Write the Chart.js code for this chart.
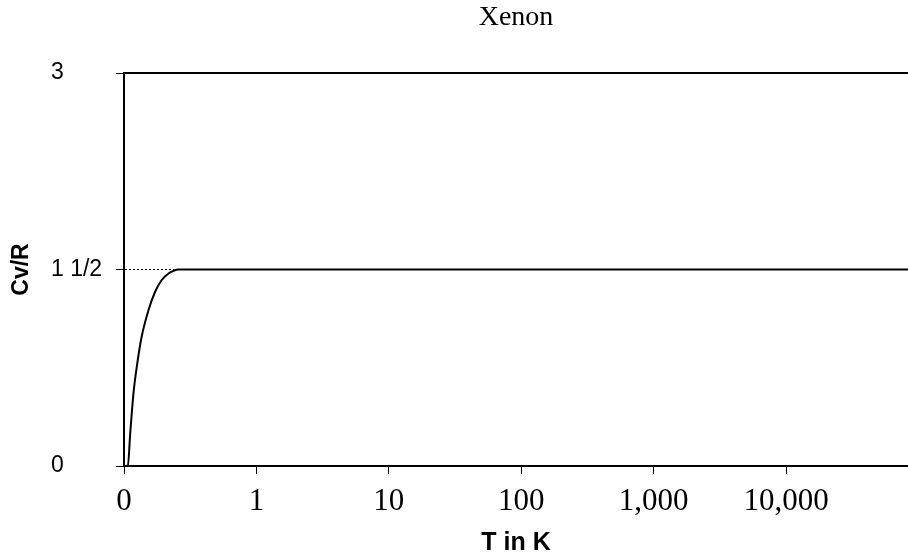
<!DOCTYPE html>
<html>
<head>
<meta charset="utf-8">
<script src="https://cdn.jsdelivr.net/npm/chart.js@4.4.0/dist/chart.umd.min.js"></script>
<style>
  body { margin: 0; background: #fff; }
</style>
</head>
<body>
<canvas id="myChart" width="908" height="558"></canvas>
<script>
// curve (x is position on the axis, 1 unit per decade label)
var tempPos = [0.02, 0.029, 0.047, 0.072, 0.097, 0.134, 0.185, 0.235, 0.285, 0.336, 0.374, 0.411, 5.92];
var cvOverR = [0.0, 0.0, 0.25, 0.56, 0.76, 0.99, 1.19, 1.33, 1.42, 1.47, 1.49, 1.50, 1.50];

var xTickPos = [0, 1, 2, 3, 4, 5];
var xTickLabels = ["0", "1", "10", "100", "1,000", "10,000"];
var yTickPos = [0, 1.5, 3];
var yTickLabels = ["0", "1 1/2", "3"];

var points = [];
tempPos.forEach(function (t, i) { points.push({ x: t, y: cvOverR[i] }); });

Chart.defaults.color = "#000";

var ctx = document.getElementById("myChart").getContext("2d");
var myChart = new Chart(ctx, {
  type: "line",
  data: {
    datasets: [{
      data: points,
      borderColor: "#000",
      borderWidth: 2,
      pointRadius: 0,
      cubicInterpolationMode: "monotone",
      fill: false
    }]
  },
  options: {
    responsive: false,
    animation: false,
    layout: { padding: 0 },
    plugins: { legend: { display: false }, tooltip: { enabled: false } },
    scales: {
      x: {
        type: "linear",
        position: "bottom",
        min: 0,
        max: 5.92,
        afterBuildTicks: function (s) { s.ticks = xTickPos.map(function (v) { return { value: v }; }); },
        afterFit: function (s) { s.height = 92; },
        ticks: {
          autoSkip: false,
          maxRotation: 0,
          padding: 9,
          font: { family: "'Liberation Serif', 'Times New Roman', serif", size: 31 },
          callback: function (v) { return xTickLabels[xTickPos.indexOf(v)]; }
        },
        grid: { drawOnChartArea: false, tickLength: 8, tickColor: "#000", tickWidth: 1 },
        border: { color: "#000", width: 2 },
        title: {
          display: true,
          text: "T in K",
          padding: { top: 0, bottom: 0 },
          font: { family: "'Liberation Sans', Arial, sans-serif", size: 25, weight: "bold" }
        }
      },
      xTop: {
        type: "linear",
        position: "top",
        min: 0,
        max: 1,
        afterFit: function (s) { s.height = 73; },
        ticks: { display: false },
        grid: { display: false },
        border: { color: "#000", width: 2 },
        title: {
          display: true,
          text: "Xenon",
          padding: { top: 1, bottom: 0 },
          font: { family: "'Liberation Serif', 'Times New Roman', serif", size: 28 }
        }
      },
      y: {
        type: "linear",
        position: "left",
        weight: 0,
        min: 0,
        max: 3,
        afterBuildTicks: function (s) { s.ticks = yTickPos.map(function (v) { return { value: v }; }); },
        afterFit: function (s) { s.width = 73; },
        ticks: {
          crossAlign: "far",
          font: { family: "'Liberation Sans', Arial, sans-serif", size: 23 },
          callback: function (v) { return yTickLabels[yTickPos.indexOf(v)]; }
        },
        grid: {
          drawOnChartArea: true,
          lineWidth: 1,
          color: function (c) { return c.tick && c.tick.value === 1.5 ? "#000" : "rgba(0,0,0,0)"; },
          tickLength: 8,
          tickColor: "#000",
          tickWidth: 1
        },
        border: { color: "#000", width: 2, dash: [2, 2] }
      },
      yTitle: {
        type: "linear",
        position: "left",
        weight: 1,
        min: 0,
        max: 1,
        afterFit: function (s) { s.width = 51; },
        ticks: { display: false },
        grid: { display: false },
        border: { display: false },
        title: {
          display: true,
          text: "Cv/R",
          padding: { top: 8, bottom: 0 },
          font: { family: "'Liberation Sans', Arial, sans-serif", size: 23, weight: "bold" }
        }
      }
    }
  }
});
</script>
</body>
</html>
